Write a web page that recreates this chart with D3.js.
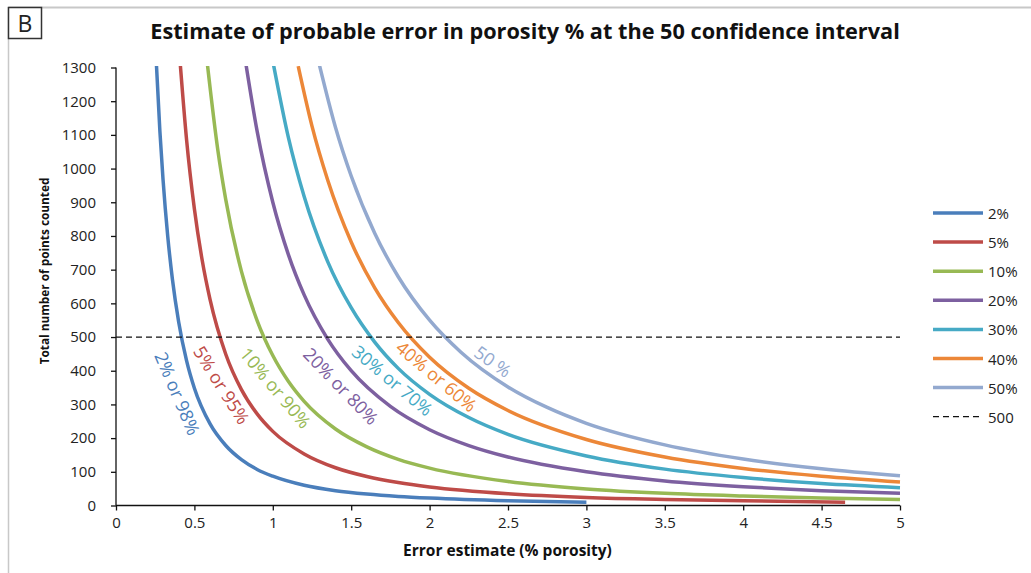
<!DOCTYPE html>
<html>
<head>
<meta charset="utf-8">
<script src="https://cdn.jsdelivr.net/npm/d3@7"></script>
<style>
  body { margin: 0; background: #fff; }
  svg { display: block; font-family: "Open Sans", sans-serif; }
</style>
</head>
<body>
<svg id="chart" width="1031" height="573"></svg>
<script>
// points: [error estimate, points counted]
const series2 = [[0.258,1307],[0.28,1110],[0.30,967],[0.33,799],[0.36,671],[0.40,544],[0.45,430],[0.5,348],[0.6,242],[0.7,178],[0.8,136],[0.9,107],[1.0,87],[1.2,60],[1.4,44],[1.6,34],[1.8,27],[2.0,22],[2.5,14],[3.0,10]];
const series5 = [[0.41,1309],[0.45,1086],[0.5,880],[0.55,727],[0.6,611],[0.7,449],[0.8,344],[0.9,272],[1.0,220],[1.2,153],[1.4,112],[1.6,86],[1.8,68],[2.0,55],[2.5,35],[3.0,24],[3.5,18],[4.0,14],[4.65,10]];
const series10 = [[0.583,1309],[0.65,1053],[0.7,908],[0.8,695],[0.9,549],[1.0,445],[1.1,368],[1.2,309],[1.4,227],[1.6,174],[1.8,137],[2.0,111],[2.5,71],[3.0,49],[3.5,36],[4.0,28],[4.5,22],[5.0,18]];
const series20 = [[0.83,1306],[0.9,1111],[1.0,900],[1.1,744],[1.2,625],[1.35,494],[1.5,400],[1.75,294],[2.0,225],[2.25,178],[2.5,144],[3.0,100],[3.5,73],[4.0,56],[4.5,44],[5.0,36]];
const series30 = [[1.005,1307],[1.1,1091],[1.2,917],[1.35,724],[1.5,587],[1.65,485],[1.8,407],[2.0,330],[2.25,261],[2.5,211],[3.0,147],[3.5,108],[4.0,83],[4.5,65],[5.0,53]];
const series40 = [[1.162,1304],[1.25,1126],[1.35,966],[1.5,782],[1.65,646],[1.8,543],[2.0,440],[2.25,348],[2.5,282],[3.0,196],[3.5,144],[4.0,110],[4.5,87],[5.0,70]];
const series50 = [[1.298,1306],[1.4,1122],[1.5,978],[1.65,808],[1.8,679],[2.0,550],[2.2,455],[2.5,352],[2.75,291],[3.0,244],[3.5,180],[4.0,138],[4.5,109],[5.0,88]];

const seriesNames = ["2%", "5%", "10%", "20%", "30%", "40%", "50%"];
const seriesData = [series2, series5, series10, series20, series30, series40, series50];
const seriesColors = ["#4a7ebb", "#be4b48", "#98b954", "#7d60a0", "#46aac5", "#ec8738", "#93a9cf"];
const curveLabels = ["2% or 98%", "5% or 95%", "10% or 90%", "20% or 80%", "30% or 70%", "40% or 60%", "50 %"];
// label centre in data units and rotation
const labelPos = [[0.394,333,67],[0.675,358,58],[1.019,350,50],[1.436,355,46],[1.764,372,40],[2.045,384,40],[2.405,428,35]];

const refValue = 500;
const xTicks = [0, 0.5, 1, 1.5, 2, 2.5, 3, 3.5, 4, 4.5, 5];
const yTicks = d3.range(0, 1301, 100);

const svg = d3.select("#chart");

// stretch a text to a width
function fit(sel, w) {
  const fs = +sel.attr("font-size");
  const len = sel.node().getComputedTextLength();
  sel.attr("font-size", fs * w / len);
}

// frame
svg.append("line").attr("x1", 8.5).attr("x2", 1031).attr("y1", 7.5).attr("y2", 7.5)
  .attr("stroke", "#c8c8c8").attr("stroke-width", 2);
svg.append("line").attr("x1", 8.5).attr("x2", 8.5).attr("y1", 7).attr("y2", 573)
  .attr("stroke", "#c8c8c8").attr("stroke-width", 1.5);
svg.append("rect").attr("x", 8.5).attr("y", 7.5).attr("width", 33).attr("height", 31)
  .attr("fill", "#fff").attr("stroke", "#333").attr("stroke-width", 1.5);
svg.append("text").attr("x", 25).attr("y", 32).attr("text-anchor", "middle")
  .attr("font-size", 23).attr("fill", "#222").text("B");

const x = d3.scaleLinear().domain([0, 5]).range([116, 900]);
const y = d3.scaleLinear().domain([0, 1300]).range([505.5, 67.5]);

const title = svg.append("text").attr("x", 525).attr("y", 39).attr("text-anchor", "middle")
  .attr("font-size", 19).attr("font-weight", "bold").attr("fill", "#111")
  .text("Estimate of probable error in porosity % at the 50 confidence interval");
fit(title, 750);

const defs = svg.append("defs");
defs.append("clipPath").attr("id", "plot")
  .append("rect").attr("x", 116).attr("y", 66).attr("width", 790).attr("height", 445);

const line = d3.line().x(d => x(d[0])).y(d => y(d[1])).curve(d3.curveMonotoneX);

const g = svg.append("g").attr("clip-path", "url(#plot)");
seriesData.forEach((d, i) => {
  g.append("path").datum(d).attr("d", line).attr("fill", "none")
    .attr("stroke", seriesColors[i]).attr("stroke-width", 3.5);
});

svg.append("line").attr("x1", x(0)).attr("x2", x(5)).attr("y1", y(refValue)).attr("y2", y(refValue))
  .attr("stroke", "#111").attr("stroke-width", 1.3).attr("stroke-dasharray", "6,4");

// axes
const xAxis = svg.append("g").attr("transform", `translate(0,${y(0)})`)
  .call(d3.axisBottom(x).tickValues(xTicks).tickSize(5).tickPadding(7).tickFormat(d3.format("")));
const yAxis = svg.append("g").attr("transform", `translate(${x(0)},0)`)
  .call(d3.axisLeft(y).tickValues(yTicks).tickSize(5).tickPadding(15).tickFormat(d3.format("d")));
[xAxis, yAxis].forEach(a => {
  a.select(".domain").attr("stroke", "#111").attr("stroke-width", 1.3);
  a.selectAll(".tick line").attr("stroke", "#111").attr("stroke-width", 1.3);
  a.selectAll("text").attr("font-size", 15).attr("fill", "#222").attr("font-family", "'Open Sans', sans-serif");
});
xAxis.select(".domain").attr("d", `M${x(0)},0H${x(5)}`);
yAxis.select(".domain").attr("d", `M0,${y(1300)}V${y(0)}`);

const xt = svg.append("text").attr("x", 507.5).attr("y", 556).attr("text-anchor", "middle")
  .attr("font-size", 13.5).attr("font-weight", "bold").attr("fill", "#111")
  .text("Error estimate (% porosity)");
fit(xt, 209);

// y title: narrow face in the reference, so squeeze it instead of shrinking
const yt = svg.append("text").attr("text-anchor", "middle")
  .attr("font-size", 13).attr("font-weight", "bold").attr("fill", "#111")
  .text("Total number of points counted");
const ytLen = yt.node().getComputedTextLength();
yt.attr("transform", `translate(49,271) rotate(-90) scale(${187 / ytLen},1)`);

// curve labels
curveLabels.forEach((t, i) => {
  const p = labelPos[i];
  svg.append("text")
    .attr("transform", `translate(${x(p[0])},${y(p[1])}) rotate(${p[2]})`)
    .attr("text-anchor", "middle").attr("dominant-baseline", "central")
    .attr("font-size", 18).attr("fill", seriesColors[i]).text(t);
});

// legend
const legend = svg.append("g").attr("transform", "translate(933,213)");
seriesNames.concat(["500"]).forEach((t, i) => {
  const row = legend.append("g").attr("transform", `translate(0,${i * 29.1})`);
  if (i < seriesNames.length) {
    row.append("line").attr("x1", 0).attr("x2", 50).attr("stroke", seriesColors[i]).attr("stroke-width", 3.5);
  } else {
    row.append("line").attr("x1", 0).attr("x2", 46).attr("stroke", "#111")
      .attr("stroke-width", 1.3).attr("stroke-dasharray", "6,4");
  }
  row.append("text").attr("x", 55).attr("y", 0).attr("dominant-baseline", "central")
    .attr("font-size", 15).attr("fill", "#222").text(t);
});
</script>
</body>
</html>
